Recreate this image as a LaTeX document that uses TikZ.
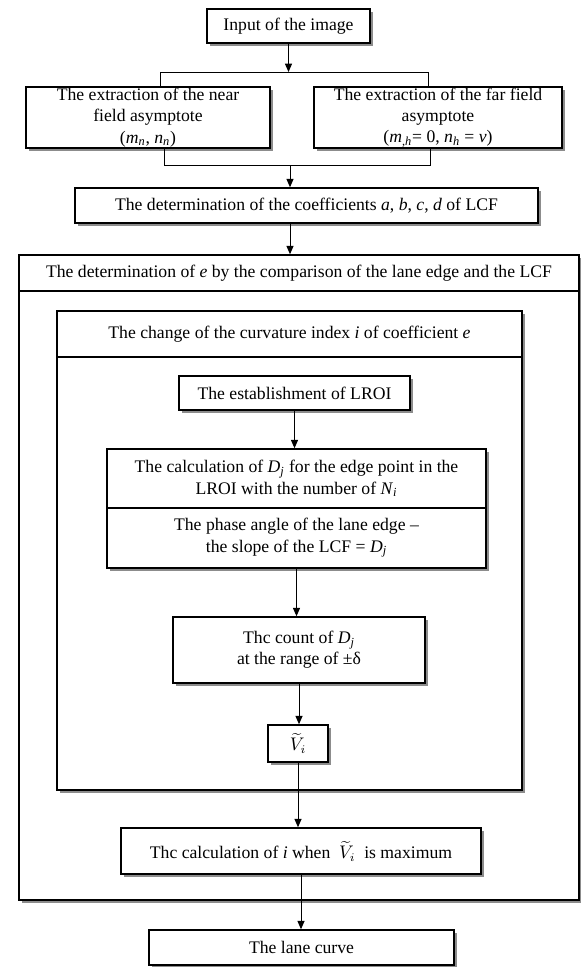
\documentclass[tikz,border=0pt]{standalone}
\usepackage{fontspec}
\setmainfont{Liberation Serif}
\usetikzlibrary{arrows.meta,shadows}

\newcommand{\idx}[2]{\textit{#1}\textsubscript{\textit{#2}}}

\begin{document}
\begin{tikzpicture}[x=0.6pt, y=-0.6pt, >={Triangle[length=5pt,width=4.2pt]},
  font=\fontsize{10.6}{12.8}\selectfont,
  frame/.style={draw, line width=0.9pt, fill=white, align=center, inner sep=0pt},
  box/.style={frame, drop shadow={shadow xshift=1.8pt, shadow yshift=-1.8pt,
      fill=black!45, opacity=1}},
  link/.style={line width=0.6pt}]
  \useasboundingbox (0,0) rectangle (581,967);
  % ---------------------------------------------------------------- outer frames
  \node[box, minimum width=336pt, minimum height=387pt] (outer) at (299,577.5) {};
  \node[frame, minimum width=336pt, minimum height=21.6pt] (outerT) at (299,273)
    {The determination of \textit{e} by the comparison of the lane edge and the LCF};
  \node[box, minimum width=279pt, minimum height=287.4pt] (inner) at (289.5,550.5) {};
  \node[frame, minimum width=279pt, minimum height=27.6pt] (innerT) at (289.5,334)
    {The change of the curvature index \textit{i} of coefficient \textit{e}};
  % ---------------------------------------------------------------- top part
  \node[box, minimum width=97.8pt, minimum height=20.4pt] (in) at (288.5,26) {Input of the image};
  \node[box, minimum width=146.4pt, minimum height=36.6pt] (near) at (148,117.5)
    {The extraction of the near\\ field asymptote\\ (\idx{m}{n}, \idx{n}{n})};
  \node[box, minimum width=148.8pt, minimum height=36.6pt] (far) at (438,117.5)
    {The extraction of the far field\\ asymptote\\ (\textit{m}\textsubscript{,\textit{h}}= 0, \idx{n}{h} = \textit{v})};
  \node[box, minimum width=277.8pt, minimum height=21pt] (coef) at (306.5,205.5)
    {The determination of the coefficients \textit{a}, \textit{b}, \textit{c}, \textit{d} of LCF};
  \coordinate (spL) at (160,72);
  \coordinate (spR) at (428,72);
  \coordinate (mgL) at (164,165);
  \coordinate (mgR) at (430,165);
  \coordinate (mg) at (290,165);
  \draw[link, ->] (in.south) -- (in.south |- spL);
  \draw[link] (spL |- near.north) -- (spL) -- (spR) -- (spR |- far.north);
  \draw[link] (mgL |- near.south) -- (mgL) -- (mgR) -- (mgR |- far.south);
  \draw[link, ->] (mg) -- (mg |- coef.north);
  \draw[link, ->] (mg |- coef.south) -- (mg |- outer.north);
  % ---------------------------------------------------------------- inner loop
  \node[box, minimum width=138.6pt, minimum height=20.4pt] (lroi) at (294.5,393) {The establishment of LROI};
  \node[box, minimum width=227.4pt, minimum height=71.4pt] (calcD) at (296.5,508.5) {};
  \node[frame, minimum width=227.4pt, minimum height=35.4pt] (calcA) at (296.5,478.5)
    {The calculation of \idx{D}{j} for the edge point in the\\ LROI with the number of \idx{N}{i}};
  \node[frame, minimum width=227.4pt, minimum height=36pt] (calcB) at (296.5,538)
    {The phase angle of the lane edge --\\ the slope of the LCF = \idx{D}{j}};
  \node[box, minimum width=151.2pt, minimum height=39.6pt] (count) at (299,650)
    {Thc count of \idx{D}{j}\\ at the range of ±δ};
  \node[box, minimum width=36pt, minimum height=22.2pt] (vt) at (298,743.5) {$\widetilde{V}_i$};
  \node[box, minimum width=216pt, minimum height=27.6pt] (calc) at (301,851)
    {Thc calculation of \textit{i} when \ $\widetilde{V}_i$ \ is maximum};
  \node[box, minimum width=183pt, minimum height=21pt] (lane) at (301.5,947.5) {The lane curve};
  \draw[link, ->] (lroi.south) -- (lroi.south |- calcA.north);
  \draw[link, ->] (calcB.south) -- (calcB.south |- count.north);
  \draw[link, ->] (count.south) -- (count.south |- vt.north);
  \draw[link, ->] (vt.south) -- (vt.south |- calc.north);
  \draw[link, ->] (calc.south) -- (calc.south |- lane.north);
\end{tikzpicture}
\end{document}
